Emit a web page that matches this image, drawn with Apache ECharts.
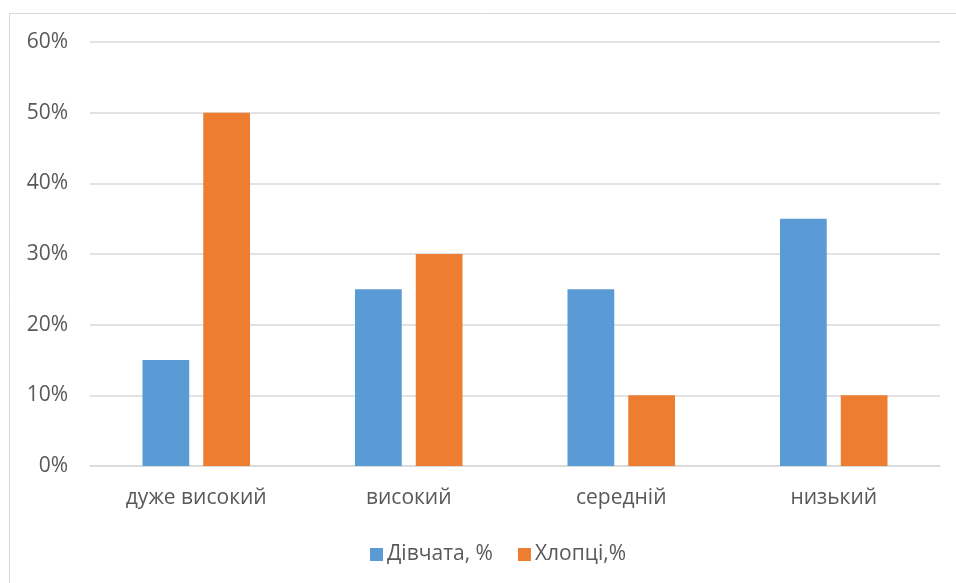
<!DOCTYPE html>
<html><head><meta charset="utf-8">
<script src="https://cdn.jsdelivr.net/npm/echarts@6/dist/echarts.min.js"></script>
<style>html,body{margin:0;padding:0;background:#fff}#c{width:956px;height:583px}</style>
</head><body><div id="c"></div>
<script>
const categories = ['дуже високий', 'високий', 'середній', 'низький'];
const girls = [15, 25, 25, 35];
const boys = [50, 30, 10, 10];
const yTicks = [0, 10, 20, 30, 40, 50, 60];

const chart = echarts.init(document.getElementById('c'));
const font = '"Open Sans", "Noto Sans", sans-serif';
chart.setOption({
  animation: false,
  textStyle: { fontFamily: font },
  graphic: [{ type: 'rect', shape: { x: 9.5, y: 13.5, width: 1000, height: 700 }, style: { fill: 'none', stroke: '#d9d9d9', lineWidth: 1 }, silent: true }],
  grid: { left: 90, right: 16, top: 42, bottom: 117 },
  legend: {
    bottom: 13, left: 365, itemWidth: 13, itemHeight: 13, itemGap: 25,
    icon: 'rect',
    textStyle: { fontSize: 21, color: '#595959', fontFamily: font, padding: [0, 0, 0, -1] },
    data: ['Дівчата, %', 'Хлопці,%']
  },
  xAxis: {
    type: 'category', data: categories,
    axisLine: { lineStyle: { color: '#d9d9d9', width: 1.5 } },
    axisTick: { show: false },
    axisLabel: { fontSize: 21, color: '#595959', margin: 22, fontFamily: font }
  },
  yAxis: {
    type: 'value', min: yTicks[0], max: yTicks[yTicks.length - 1], interval: 10,
    axisLine: { show: false }, axisTick: { show: false },
    axisLabel: { fontSize: 21, color: '#595959', margin: 22, formatter: v => v + '%', fontFamily: font },
    splitLine: { lineStyle: { color: '#d9d9d9', width: 1.5 } }
  },
  series: [
    { name: 'Дівчата, %', type: 'bar', data: girls, barWidth: '22%', barGap: '30%', itemStyle: { color: '#5b9bd5' } },
    { name: 'Хлопці,%', type: 'bar', data: boys, barWidth: '22%', barGap: '30%', itemStyle: { color: '#ed7d31' } }
  ]
});
</script></body></html>
